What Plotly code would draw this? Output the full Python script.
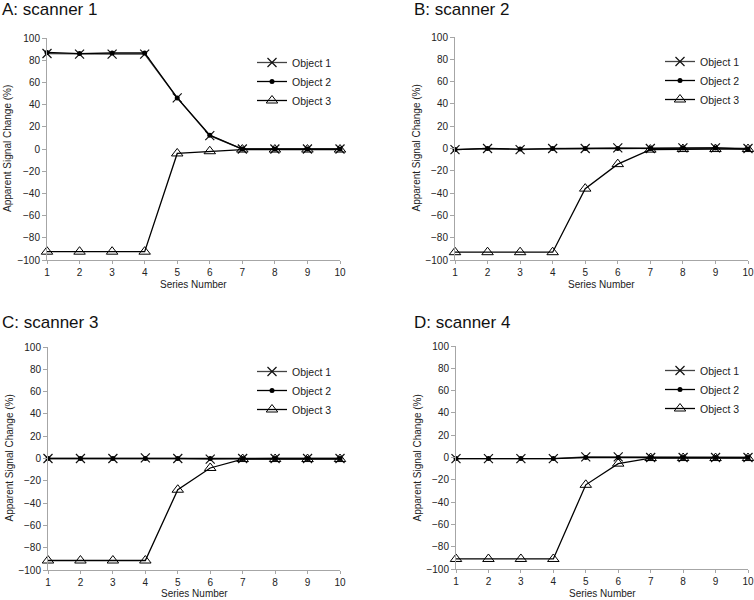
import plotly.graph_objects as go

series = [1, 2, 3, 4, 5, 6, 7, 8, 9, 10]
tick_labels = ["1", "2", "3", "4", "5", "6", "7", "8", "9", "10"]
object_names = ["Object 1", "Object 2", "Object 3"]
panel_titles = ["A: scanner 1", "B: scanner 2", "C: scanner 3", "D: scanner 4"]

# scanner 1
s1_obj1 = [86, 85.5, 85.5, 85.5, 46, 12, 0, 0, 0, 0]
s1_obj2 = [87, 86, 86.5, 86.5, 46, 12.5, 0, 0, 0, 0]
s1_obj3 = [-92.5, -92.5, -92.5, -92.5, -4, -2, -0.5, -0.5, -0.5, -0.5]
# scanner 2
s2_obj1 = [-1, 0, -1, 0, 0, 0.5, 0, 0.5, 0.5, 0]
s2_obj2 = [-1, 0, -0.5, 0, 0, 0, 0, 0.5, 0.5, -0.5]
s2_obj3 = [-93, -93, -93, -93, -36, -14, -1, -0.5, -0.5, -0.5]
# scanner 3
s3_obj1 = [0, 0, 0, 0.5, 0, -0.5, 0, 0, 0, 0]
s3_obj2 = [0, 0, 0, 0, 0, 0, 0, 0, 0, 0]
s3_obj3 = [-91.5, -91.5, -91.5, -91.5, -28, -8.5, -0.5, -0.5, -0.5, -0.5]
# scanner 4
s4_obj1 = [-1, -1, -1, -1, 0.5, 0.5, 0, 0, 0, 0]
s4_obj2 = [-1, -1, -1, -1, 0, 0, 0, 0, 0, 0]
s4_obj3 = [-91, -91, -91, -91, -24.5, -5.5, -0.5, -0.5, -0.5, -0.5]

panels = [
    (s1_obj1, s1_obj2, s1_obj3),
    (s2_obj1, s2_obj2, s2_obj3),
    (s3_obj1, s3_obj2, s3_obj3),
    (s4_obj1, s4_obj2, s4_obj3),
]

W, H = 754, 600
# plot areas in pixels: (left, right, top, bottom)
areas = [
    (47, 340, 38, 260),
    (455, 748, 37, 260),
    (48, 340, 347, 570),
    (456, 748, 346, 569),
]
title_pos = [(0, 9), (412, 9), (0, 322), (412, 322)]

FONT = "Liberation Sans, Arial, sans-serif"
TXT = "#222222"
AX = "#a6a6a6"

styles = [
    dict(symbol="x-thin", size=9, line=dict(width=1.2, color="#111111"), color="#111111"),
    dict(symbol="circle", size=5, color="#000000", line=dict(width=0)),
    dict(symbol="triangle-up-open", size=10, color="#000000", line=dict(width=1)),
]
line_colors = ["#444444", "#000000", "#000000"]

fig = go.Figure()
layout = dict(
    width=W, height=H,
    margin=dict(l=0, r=0, t=0, b=0, autoexpand=False),
    paper_bgcolor="white", plot_bgcolor="white",
    font=dict(family=FONT, size=10, color=TXT),
    annotations=[],
)

for i, (data, (l, r, t, b)) in enumerate(zip(panels, areas)):
    k = "" if i == 0 else str(i + 1)
    xa, ya = "x" + k, "y" + k
    leg = "legend" + k
    for j, ys in enumerate(data):
        fig.add_trace(go.Scatter(
            x=series, y=ys, mode="lines+markers", name=object_names[j],
            xaxis=xa, yaxis=ya, legend=leg,
            line=dict(color=line_colors[j], width=1.3),
            marker=styles[j], cliponaxis=False,
        ))
    layout["xaxis" + k] = dict(
        domain=[l / W, r / W], anchor=ya, range=[1, 10],
        tickvals=series, ticktext=tick_labels,
        showgrid=False, zeroline=False, showline=True, linecolor=AX, linewidth=1,
        ticks="outside", ticklen=3, tickcolor=AX,
        tickfont=dict(size=10, color=TXT, family=FONT),
    )
    layout["yaxis" + k] = dict(
        domain=[1 - b / H, 1 - t / H], anchor=xa, range=[-100, 100],
        dtick=20, showgrid=False, zeroline=False, showline=True, linecolor=AX, linewidth=1,
        ticks="outside", ticklen=4, tickcolor=AX,
        tickfont=dict(size=10, color=TXT, family=FONT),
    )
    layout[leg] = dict(
        x=(r - 88) / W, y=1 - (t + 10) / H, xanchor="left", yanchor="top",
        bgcolor="rgba(0,0,0,0)", font=dict(size=10.5, color=TXT, family=FONT),
        itemwidth=30, tracegroupgap=0,
    )
    tx, ty = title_pos[i]
    layout["annotations"].append(dict(
        text=panel_titles[i], x=tx / W, y=1 - ty / H, xref="paper", yref="paper",
        xanchor="left", yanchor="middle", showarrow=False,
        font=dict(size=17, color="#111111", family=FONT),
    ))
    if b + 30 < H:
        st = dict(y=1 - (b + 24) / H, yanchor="middle")
    else:
        st = dict(y=0, yanchor="bottom", borderpad=0)
    layout["annotations"].append(dict(
        text="Series Number", x=(l + r) / 2 / W, xref="paper", yref="paper",
        xanchor="center", showarrow=False,
        font=dict(size=10, color=TXT, family=FONT), **st,
    ))
    layout["annotations"].append(dict(
        text="Apparent Signal Change (%)", x=(l - 39) / W, y=1 - (t + b) / 2 / H,
        xref="paper", yref="paper", textangle=-90,
        xanchor="center", yanchor="middle", showarrow=False,
        font=dict(size=10, color=TXT, family=FONT),
    ))

fig.update_layout(**layout)
fig.write_html(
    "out.html",
    config={"displayModeBar": False},
    post_script="document.body.style.margin='0';document.body.style.overflow='hidden';",
)
